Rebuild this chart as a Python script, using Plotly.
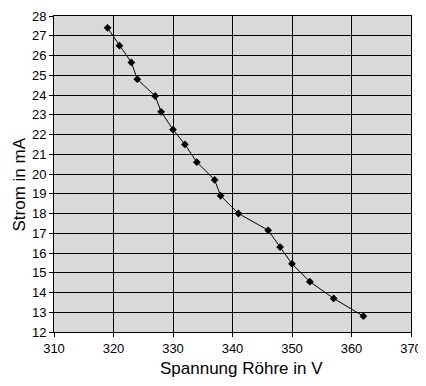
import plotly.graph_objects as go

spannung = [319, 321, 323, 324, 327, 328, 330, 332, 334, 337, 338, 341, 346, 348, 350, 353, 357, 362]
strom = [27.4, 26.5, 25.65, 24.8, 23.95, 23.15, 22.25, 21.5, 20.6, 19.7, 18.9, 18.0, 17.15, 16.3, 15.45, 14.55, 13.7, 12.8]

# the page body adds an 8px offset, so the figure is drawn 8px smaller
W, H = 418, 378
L, R, T, B = 46, 15, 8, 54
PW, PH = W - L - R, H - T - B

fig = go.Figure()
fig.add_trace(go.Scatter(
    x=spannung, y=strom, mode="lines+markers",
    line=dict(color="black", width=1),
    marker=dict(symbol="diamond", size=6, color="black"),
    showlegend=False,
))

fig.update_layout(
    width=W, height=H,
    margin=dict(l=L, r=R, t=T, b=B),
    paper_bgcolor="white",
    plot_bgcolor="#D9D9D9",
    font=dict(family="Liberation Sans, Arial, sans-serif", color="black"),
    annotations=[
        dict(text="Spannung Röhre in V", xref="paper", yref="paper",
             x=(233 - L) / PW, y=-(360 - (H - B)) / PH,
             xanchor="center", yanchor="middle", showarrow=False,
             font=dict(size=17)),
        dict(text="Strom in mA", xref="paper", yref="paper",
             x=-(L - 10.5) / PW, y=(H - B - 177) / PH,
             xanchor="center", yanchor="middle", showarrow=False, textangle=-90,
             font=dict(size=17)),
    ],
)
fig.update_xaxes(
    range=[310, 370], dtick=10, tick0=310, automargin=False,
    showgrid=True, gridcolor="black", gridwidth=1,
    showline=True, linecolor="black", linewidth=1, mirror=True,
    ticks="outside", ticklen=4, tickcolor="black",
    tickfont=dict(size=13), ticklabeloverflow="allow",
    zeroline=False,
)
fig.update_yaxes(
    range=[12, 28], dtick=1, tick0=12, automargin=False,
    showgrid=True, gridcolor="black", gridwidth=1,
    showline=True, linecolor="black", linewidth=1, mirror=True,
    ticks="outside", ticklen=4, tickcolor="black",
    tickfont=dict(size=13), ticklabeloverflow="allow",
    zeroline=False,
)

fig.write_html("out.html")
